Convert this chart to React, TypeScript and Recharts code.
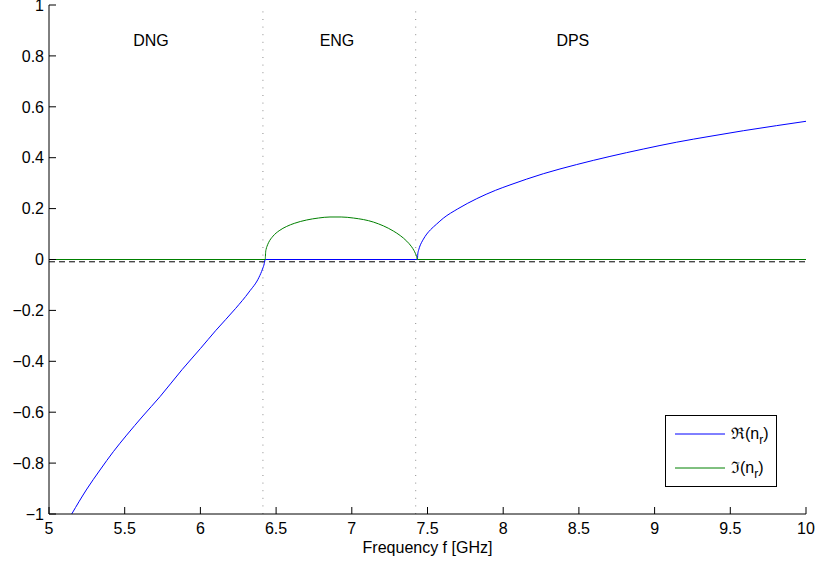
import React from "react";
import {
  LineChart,
  Line,
  XAxis,
  YAxis,
  ReferenceLine,
  ReferenceDot,
  Legend,
} from "recharts";

// Re(n_r): frequency [GHz] and value
const reFreq = [
  5.15, 5.25, 5.337, 5.425, 5.513, 5.62, 5.733, 5.88, 6.0, 6.1, 6.233, 6.321,
  6.387, 6.41, 6.422, 6.428, 7.433, 7.436, 7.442, 7.45, 7.46, 7.473, 7.495,
  7.52, 7.56, 7.604, 7.7, 7.825, 7.95, 8.045, 8.265, 8.485, 8.705, 8.925,
  9.146, 9.366, 9.586, 9.806, 10,
];
const reValue = [
  -1, -0.902, -0.827, -0.755, -0.69, -0.615, -0.539, -0.432, -0.35, -0.28,
  -0.192, -0.128, -0.07, -0.038, -0.016, 0, 0, 0.022, 0.038, 0.053, 0.066,
  0.08, 0.1, 0.117, 0.139, 0.162, 0.199, 0.239, 0.272, 0.293, 0.337, 0.373,
  0.405, 0.434, 0.461, 0.484, 0.506, 0.526, 0.543,
];

// Im(n_r)
const imFreq = [
  5, 6.428, 6.431, 6.434, 6.44, 6.45, 6.48, 6.52, 6.57, 6.62, 6.7, 6.78, 6.856,
  6.93, 7.01, 7.143, 7.274, 7.32, 7.363, 7.395, 7.41, 7.42, 7.428, 7.433, 10,
];
const imValue = [
  0, 0, 0.03, 0.04, 0.052, 0.066, 0.092, 0.113, 0.13, 0.142, 0.155, 0.163,
  0.167, 0.167, 0.163, 0.147, 0.112, 0.094, 0.072, 0.05, 0.036, 0.024, 0.012,
  0, 0,
];

const xTicks = [5, 5.5, 6, 6.5, 7, 7.5, 8, 8.5, 9, 9.5, 10];
const yTicks = [-1, -0.8, -0.6, -0.4, -0.2, 0, 0.2, 0.4, 0.6, 0.8, 1];

const regionBounds = [6.413, 7.422];
const regionNames = ["DNG", "ENG", "DPS"];
const regionCenters = [5.674, 6.902, 8.46];
const baselineValue = -0.009;

const reData = reFreq.map((f, i) => ({ f, v: reValue[i] }));
const imData = imFreq.map((f, i) => ({ f, v: imValue[i] }));

const FONT = "'Liberation Sans', Arial, Helvetica, sans-serif";
const TICK_LEN = 7;

function fmt(v: number) {
  return String(Number(v.toFixed(1))).replace("-", "\u2212");
}

function BottomTick({ x, y, payload }: any) {
  return (
    <g>
      <line x1={x} x2={x} y1={y} y2={y - TICK_LEN} stroke="#000" />
      <text
        x={x}
        y={y + 9}
        dy="0.71em"
        textAnchor="middle"
        fontSize={16}
        fontFamily={FONT}
        fill="#000"
      >
        {fmt(payload.value)}
      </text>
    </g>
  );
}

function TopTick({ x, y }: any) {
  return <line x1={x} x2={x} y1={y} y2={y + TICK_LEN} stroke="#000" />;
}

function LeftTick({ x, y, payload }: any) {
  return (
    <g>
      <line x1={x} x2={x + TICK_LEN} y1={y} y2={y} stroke="#000" />
      <text
        x={x - 5}
        y={y}
        dy="0.36em"
        textAnchor="end"
        fontSize={16}
        fontFamily={FONT}
        fill="#000"
      >
        {fmt(payload.value)}
      </text>
    </g>
  );
}

function RightTick({ x, y }: any) {
  return <line x1={x} x2={x - TICK_LEN} y1={y} y2={y} stroke="#000" />;
}

function LegendBox() {
  const rows = [
    { color: "#0000ff", sym: "\u211C" },
    { color: "#008000", sym: "\u2111" },
  ];
  return (
    <div
      style={{
        width: 110,
        height: 70,
        border: "1px solid #000",
        background: "#fff",
        fontFamily: FONT,
        fontSize: 16,
        boxSizing: "content-box",
      }}
    >
      {rows.map((r, i) => (
        <div
          key={i}
          style={{
            position: "absolute",
            left: 10,
            top: 10 + i * 34,
            height: 18,
            display: "flex",
            alignItems: "center",
          }}
        >
          <svg width={50} height={18} style={{ display: "block" }}>
            <line x1={0} x2={50} y1={9} y2={9} stroke={r.color} />
          </svg>
          <span style={{ marginLeft: 6, lineHeight: "18px", whiteSpace: "nowrap" }}>
            {r.sym}(n
            <sub style={{ fontSize: 12, verticalAlign: "-5px", lineHeight: 0 }}>r</sub>)
          </span>
        </div>
      ))}
    </div>
  );
}

export default function App() {
  return (
    <div style={{ position: "absolute", left: 0, top: 0, background: "#fff" }}>
      <LineChart
        width={819}
        height={566}
        margin={{ top: 5, right: 13, bottom: 0, left: 0 }}
        style={{ fontFamily: FONT }}
      >
        <XAxis
          xAxisId="b"
          dataKey="f"
          type="number"
          domain={[5, 10]}
          ticks={xTicks}
          allowDataOverflow
          height={52}
          tickSize={0}
          tickMargin={0}
          tick={<BottomTick />}
          axisLine={{ stroke: "#000" }}
          tickLine={false}
          interval={0}
          label={{
            value: "Frequency f [GHz]",
            position: "insideBottom",
            offset: 13,
            fontSize: 16,
            fill: "#000",
            fontFamily: FONT,
          }}
        />
        <XAxis
          xAxisId="t"
          dataKey="f"
          type="number"
          orientation="top"
          domain={[5, 10]}
          ticks={xTicks}
          allowDataOverflow
          height={0}
          tickSize={0}
          tickMargin={0}
          tick={<TopTick />}
          axisLine={{ stroke: "#000" }}
          tickLine={false}
          interval={0}
        />
        <YAxis
          yAxisId="l"
          type="number"
          domain={[-1, 1]}
          ticks={yTicks}
          allowDataOverflow
          width={49}
          tickSize={0}
          tickMargin={0}
          tick={<LeftTick />}
          axisLine={{ stroke: "#000" }}
          tickLine={false}
          interval={0}
        />
        <YAxis
          yAxisId="r"
          type="number"
          orientation="right"
          domain={[-1, 1]}
          ticks={yTicks}
          allowDataOverflow
          width={0}
          tickSize={0}
          tickMargin={0}
          tick={<RightTick />}
          axisLine={{ stroke: "#000" }}
          tickLine={false}
          interval={0}
        />
        {regionBounds.map((b) => (
          <ReferenceLine
            key={b}
            x={b}
            xAxisId="b"
            yAxisId="l"
            stroke="#8c8c8c"
            strokeDasharray="1 6.6"
          />
        ))}
        <ReferenceLine
          y={baselineValue}
          xAxisId="b"
          yAxisId="l"
          stroke="#000"
          strokeDasharray="6 4"
        />
        <Line
          data={reData}
          dataKey="v"
          xAxisId="b"
          yAxisId="l"
          type="monotone"
          stroke="#0000ff"
          strokeWidth={1}
          dot={false}
          isAnimationActive={false}
        />
        <Line
          data={imData}
          dataKey="v"
          xAxisId="b"
          yAxisId="l"
          type="monotone"
          stroke="#008000"
          strokeWidth={1}
          dot={false}
          isAnimationActive={false}
        />
        {regionNames.map((name, i) => (
          <ReferenceDot
            key={name}
            x={regionCenters[i]}
            y={0.86}
            xAxisId="b"
            yAxisId="l"
            r={0}
            fill="none"
            stroke="none"
            label={{
              value: name,
              position: "center",
              fontSize: 16,
              fill: "#000",
              fontFamily: FONT,
            }}
          />
        ))}
        <Legend
          layout="vertical"
          align="center"
          verticalAlign="middle"
          content={<LegendBox />}
          wrapperStyle={{ position: "absolute", left: 665, top: 415, width: 112, height: 72 }}
        />
      </LineChart>
    </div>
  );
}
